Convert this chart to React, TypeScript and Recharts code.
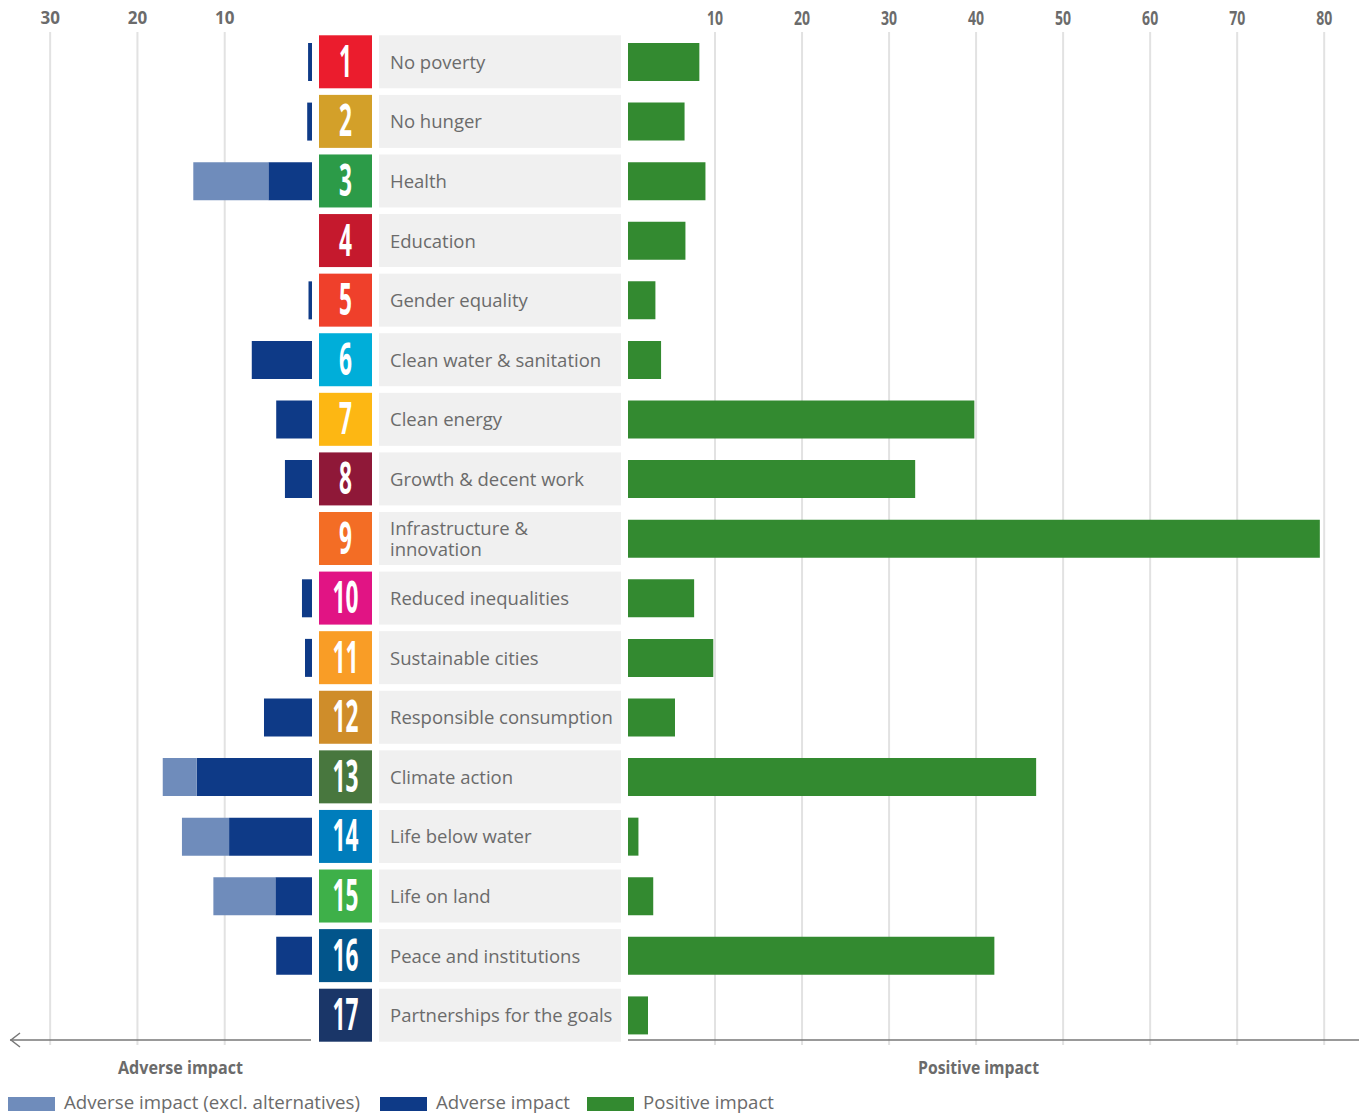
import { BarChart, Bar, XAxis, YAxis, CartesianGrid } from "recharts";

const goals = [
  "No poverty",
  "No hunger",
  "Health",
  "Education",
  "Gender equality",
  "Clean water & sanitation",
  "Clean energy",
  "Growth & decent work",
  "Infrastructure & innovation",
  "Reduced inequalities",
  "Sustainable cities",
  "Responsible consumption",
  "Climate action",
  "Life below water",
  "Life on land",
  "Peace and institutions",
  "Partnerships for the goals",
];

const goalColors = [
  "#eb1c2d", "#d3a029", "#2c9b48", "#c5192d", "#ef402b", "#00aed9",
  "#fdb713", "#8f1838", "#f36d25", "#e11484", "#f99d26", "#cf8d2a",
  "#48773e", "#007dbc", "#3eb049", "#02558b", "#1a3668",
];

const adverse = [0.45, 0.55, 5.0, 0, 0.4, 6.9, 4.1, 3.1, 0, 1.15, 0.8, 5.5, 13.2, 9.5, 4.2, 4.1, 0];
const adverseExcl = [0, 0, 8.6, 0, 0, 0, 0, 0, 0, 0, 0, 0, 3.9, 5.4, 7.1, 0, 0];
const positive = [8.2, 6.5, 8.9, 6.6, 3.15, 3.8, 39.8, 33.0, 79.5, 7.6, 9.8, 5.4, 46.9, 1.2, 2.9, 42.1, 2.3];

const leftTicks = [10, 20, 30];
const rightTicks = [10, 20, 30, 40, 50, 60, 70, 80];

const legendItems = [
  { label: "Adverse impact (excl. alternatives)", color: "#6f8cbb", x: 8, w: 296 },
  { label: "Adverse impact", color: "#0e3a87", x: 380, w: 134 },
  { label: "Positive impact", color: "#338a30", x: 587, w: 131 },
];

const DARK = "#0e3a87";
const LIGHT = "#6f8cbb";
const GREEN = "#338a30";
const GREY = "#6b6b6b";
const GRID = "#e2e2e2";
const FONT = "'Open Sans', sans-serif";

const data = goals.map((goal, i) => ({
  goal,
  adverse: adverse[i],
  adverseExcl: adverseExcl[i],
  positive: positive[i],
}));

const GoalTick = (props: any) => {
  const { y, payload } = props;
  const i = goals.indexOf(payload.value);
  const lines = payload.value === "Infrastructure & innovation" ? ["Infrastructure &", "innovation"] : [payload.value];
  return (
    <g>
      <rect x={7} y={y - 26.5} width={53} height={53} fill={goalColors[i]} />
      <text
        transform={`translate(33.5, ${y + 15}) scale(0.54, 1.05)`}
        textAnchor="middle"
        fill="#fff"
        fontSize={42}
        fontWeight={700}
        fontFamily={FONT}
      >
        {i + 1}
      </text>
      <rect x={67} y={y - 26.5} width={242} height={53} fill="#f0f0f0" />
      <text x={78} y={y + 7 - (lines.length - 1) * 10.5} fill={GREY} fontSize={18.5} fontFamily={FONT}>
        {lines.map((l, k) => (
          <tspan key={k} x={78} dy={k === 0 ? 0 : 20.5}>
            {l}
          </tspan>
        ))}
      </text>
    </g>
  );
};

const NarrowTick = (props: any) => {
  const { x, y, payload } = props;
  return (
    <text transform={`translate(${x}, ${y + 1}) scale(0.72, 1)`} textAnchor="middle" fill={GREY} fontSize={19.5} fontWeight={700} fontFamily={FONT}>
      {payload.value}
    </text>
  );
};

export default function App() {
  return (
    <div style={{ position: "absolute", left: 0, top: 0, width: 1359, height: 1114, background: "#fff", fontFamily: FONT }}>
      <div style={{ position: "absolute", left: 0, top: 0 }}>
        <BarChart layout="vertical" width={312} height={1045} data={data} margin={{ top: 0, right: 0, bottom: 0, left: 10 }}>
          <CartesianGrid horizontal={false} stroke={GRID} strokeWidth={2} syncWithTicks />
          <XAxis
            type="number"
            orientation="top"
            reversed
            domain={[0, 34.6]}
            ticks={leftTicks}
            axisLine={false}
            tickLine={false}
            height={32}
            tick={{ fill: GREY, fontSize: 17, fontWeight: 700, fontFamily: FONT }}
          />
          <YAxis type="category" dataKey="goal" hide />
          <Bar dataKey="adverse" stackId="a" fill={DARK} barSize={38} isAnimationActive={false} />
          <Bar dataKey="adverseExcl" stackId="a" fill={LIGHT} barSize={38} isAnimationActive={false} />
        </BarChart>
      </div>
      <div style={{ position: "absolute", left: 312, top: 0 }}>
        <BarChart layout="vertical" width={1047} height={1045} data={data} margin={{ top: 0, right: 0, bottom: 0, left: 0 }}>
          <CartesianGrid horizontal={false} stroke={GRID} strokeWidth={2} syncWithTicks />
          <XAxis
            type="number"
            orientation="top"
            domain={[0, 84]}
            ticks={rightTicks}
            axisLine={false}
            tickLine={false}
            height={32}
            tick={<NarrowTick />}
          />
          <YAxis type="category" dataKey="goal" width={316} axisLine={false} tickLine={false} tick={<GoalTick />} interval={0} />
          <Bar dataKey="positive" fill={GREEN} barSize={38} isAnimationActive={false} />
        </BarChart>
      </div>
      <svg style={{ position: "absolute", left: 0, top: 0 }} width={1359} height={1114}>
        <line x1={10} y1={1040} x2={311} y2={1040} stroke="#777" strokeWidth={1.5} />
        <polyline points="20,1033 11,1040 20,1047" fill="none" stroke="#777" strokeWidth={1.5} />
        <line x1={628} y1={1040} x2={1359} y2={1040} stroke="#777" strokeWidth={1.5} />
        <text x={118} y={1074} textLength={125} lengthAdjust="spacingAndGlyphs" fill={GREY} fontSize={18} fontWeight={700} fontFamily={FONT}>
          Adverse impact
        </text>
        <text x={918} y={1074} textLength={121} lengthAdjust="spacingAndGlyphs" fill={GREY} fontSize={18} fontWeight={700} fontFamily={FONT}>
          Positive impact
        </text>
        {legendItems.map((d) => (
          <g key={d.label}>
            <rect x={d.x} y={1097} width={47} height={14} fill={d.color} />
            <text x={d.x + 56} y={1109} textLength={d.w} lengthAdjust="spacingAndGlyphs" fill={GREY} fontSize={19} fontFamily={FONT}>
              {d.label}
            </text>
          </g>
        ))}
      </svg>
    </div>
  );
}
